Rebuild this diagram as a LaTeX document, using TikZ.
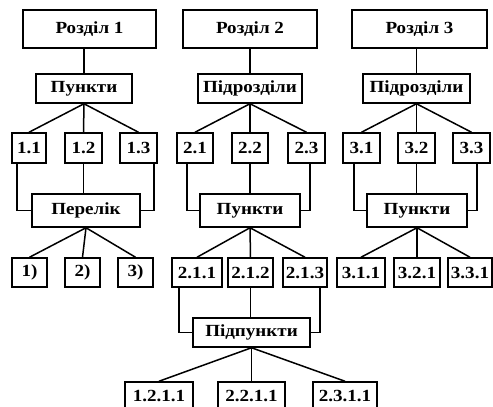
\documentclass[tikz,border=0pt]{standalone}
\usepackage{fontspec}
\setmainfont{Liberation Serif}[FakeStretch=1.12]
\begin{document}
\begin{tikzpicture}[x=1pt,y=-1pt,
  box/.style={draw,line width=1.5pt,inner sep=0pt,font=\fontsize{17}{19}\selectfont\bfseries},
  conn/.style={line width=1.5pt}]
\useasboundingbox (0,0) rectangle (493,407);
% Row A
\node[box,minimum width=133pt,minimum height=38pt] (R1) at (89.5,29) {Розділ 1};
\node[box,minimum width=134pt,minimum height=38pt] (R2) at (250,29) {Розділ 2};
\node[box,minimum width=135pt,minimum height=38pt] (R3) at (419.5,29) {Розділ 3};
% Row B
\node[box,minimum width=96pt,minimum height=29pt] (B1) at (84,88.5) {Пункти};
\node[box,minimum width=104pt,minimum height=29pt] (B2) at (250,88.5) {Підрозділи};
\node[box,minimum width=107pt,minimum height=29pt] (B3) at (416.5,88.5) {Підрозділи};
% Row C
\node[box,minimum width=34pt,minimum height=30pt] (C11) at (29,148) {1.1};
\node[box,minimum width=37pt,minimum height=30pt] (C12) at (83.5,148) {1.2};
\node[box,minimum width=37pt,minimum height=30pt] (C13) at (138.5,148) {1.3};
\node[box,minimum width=36pt,minimum height=30pt] (C21) at (195,148) {2.1};
\node[box,minimum width=36pt,minimum height=30pt] (C22) at (250,148) {2.2};
\node[box,minimum width=37pt,minimum height=30pt] (C23) at (306.5,148) {2.3};
\node[box,minimum width=37pt,minimum height=30pt] (C31) at (361.5,148) {3.1};
\node[box,minimum width=37pt,minimum height=30pt] (C32) at (416.5,148) {3.2};
\node[box,minimum width=37pt,minimum height=30pt] (C33) at (471.5,148) {3.3};
% Row D
\node[box,minimum width=108pt,minimum height=33pt] (D1) at (86,210.5) {Перелік};
\node[box,minimum width=100pt,minimum height=33pt] (D2) at (250,210.5) {Пункти};
\node[box,minimum width=100pt,minimum height=33pt] (D3) at (417,210.5) {Пункти};
% Row E
\node[box,minimum width=35pt,minimum height=29pt] (E11) at (29.5,272.5) {1)};
\node[box,minimum width=35pt,minimum height=29pt] (E12) at (82.5,272.5) {2)};
\node[box,minimum width=35pt,minimum height=29pt] (E13) at (135.5,272.5) {3)};
\node[box,minimum width=50pt,minimum height=29pt] (E21) at (197,272.5) {2.1.1};
\node[box,minimum width=45pt,minimum height=29pt] (E22) at (250.5,272.5) {2.1.2};
\node[box,minimum width=44pt,minimum height=29pt] (E23) at (305,272.5) {2.1.3};
\node[box,minimum width=48pt,minimum height=29pt] (E31) at (361,272.5) {3.1.1};
\node[box,minimum width=46pt,minimum height=29pt] (E32) at (417,272.5) {3.2.1};
\node[box,minimum width=44pt,minimum height=29pt] (E33) at (470,272.5) {3.3.1};
% Row F
\node[box,minimum width=117pt,minimum height=29pt] (F) at (251.5,332.5) {Підпункти};
% Row G
\node[box,minimum width=68pt,minimum height=28pt] (G1) at (159,396) {1.2.1.1};
\node[box,minimum width=67pt,minimum height=28pt] (G2) at (251.5,396) {2.2.1.1};
\node[box,minimum width=64pt,minimum height=28pt] (G3) at (345,396) {2.3.1.1};
% A-B
\draw[conn] (B1.north) -- (B1.north |- R1.south);
\draw[conn] (B2.north) -- (B2.north |- R2.south);
\draw[conn] (B3.north) -- (B3.north |- R3.south);
% B-C fans
\foreach \b/\c in {B1/C11,B1/C12,B1/C13,B2/C21,B2/C22,B2/C23,B3/C31,B3/C32,B3/C33}
  \draw[conn] (\b.south) -- (\c.north);
% C-D elbows
\draw[conn] ([xshift=-12pt]C11.south) |- (D1.west);
\draw[conn] (C12.south) -- (C12.south |- D1.north);
\draw[conn] ([xshift=15.5pt]C13.south) |- (D1.east);
\draw[conn] ([xshift=-8pt]C21.south) |- (D2.west);
\draw[conn] (C22.south) -- (C22.south |- D2.north);
\draw[conn] ([xshift=3.5pt]C23.south) |- (D2.east);
\draw[conn] ([xshift=-7.5pt]C31.south) |- (D3.west);
\draw[conn] (C32.south) -- (C32.south |- D3.north);
\draw[conn] ([xshift=5.5pt]C33.south) |- (D3.east);
% D-E fans
\foreach \d/\e in {D1/E11,D1/E12,D1/E13,D2/E21,D2/E22,D2/E23,D3/E31,D3/E32,D3/E33}
  \draw[conn] (\d.south) -- (\e.north);
% E-F elbows
\draw[conn] ([xshift=-18pt]E21.south) |- (F.west);
\draw[conn] (E22.south) -- (E22.south |- F.north);
\draw[conn] ([xshift=15pt]E23.south) |- (F.east);
% F-G fan
\foreach \g in {G1,G2,G3}
  \draw[conn] (F.south) -- (\g.north);
\end{tikzpicture}
\end{document}
